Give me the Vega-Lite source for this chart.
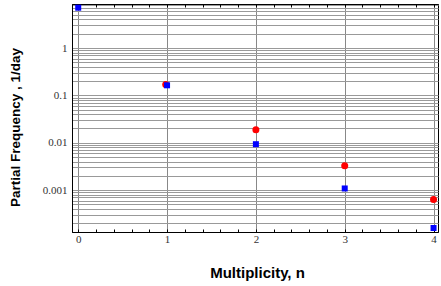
{
  "$schema": "https://vega.github.io/schema/vega-lite/v6.json",
  "width": 366,
  "height": 228,
  "autosize": {"type": "none"},
  "padding": {"left": 72, "top": 4, "right": 3, "bottom": 54},
  "background": "white",
  "config": {"view": {"stroke": "#000", "strokeWidth": 1}},
  "data": {
    "values": [
      {"n": 0, "freq": 7.1, "series": "blue"},
      {"n": 0.985, "freq": 0.17, "series": "red"},
      {"n": 1, "freq": 0.163, "series": "blue"},
      {"n": 2, "freq": 0.0187, "series": "red"},
      {"n": 2, "freq": 0.0093, "series": "blue"},
      {"n": 3, "freq": 0.00325, "series": "red"},
      {"n": 3, "freq": 0.00108, "series": "blue"},
      {"n": 4, "freq": 0.00063, "series": "red"},
      {"n": 4, "freq": 0.000158, "series": "blue"}
    ]
  },
  "layer": [
    {
      "mark": {"type": "point", "filled": true, "opacity": 1},
      "encoding": {
        "x": {
          "field": "n", "type": "quantitative",
          "scale": {"domain": [-0.07, 4.05], "nice": false, "zero": false},
          "axis": {
            "orient": "bottom",
            "values": [0,0.2,0.4,0.6,0.8,1,1.2,1.4,1.6,1.8,2,2.2,2.4,2.6,2.8,3,3.2,3.4,3.6,3.8,4],
            "labelExpr": "abs(datum.value - round(datum.value)) < 0.001 ? format(datum.value, 'd') : ''",
            "grid": true,
            "gridColor": "#888",
            "gridOpacity": {"condition": {"test": "abs(datum.value - round(datum.value)) < 0.001", "value": 1}, "value": 0},
            "tickSize": -3,
            "tickColor": "#000",
            "domainColor": "#000",
            "labelFont": "Liberation Serif",
            "labelFontSize": 11,
            "labelColor": "#333",
            "labelPadding": 4,
            "labelFlush": false,
            "title": "Multiplicity, n",
            "titleFont": "Liberation Sans",
            "titleFontSize": 15,
            "titleFontWeight": "bold",
            "titleColor": "#000",
            "titleX": 185,
            "titleY": 40,
            "titleAnchor": null,
            "titleAlign": "center",
            "titleBaseline": "middle"
          }
        },
        "y": {
          "field": "freq", "type": "quantitative",
          "scale": {"type": "log", "domain": [0.00013, 8.5], "nice": false},
          "axis": {
            "values": [0.0002,0.0003,0.0004,0.0005,0.0006,0.0007,0.0008,0.0009,0.001,0.002,0.003,0.004,0.005,0.006,0.007,0.008,0.009,0.01,0.02,0.03,0.04,0.05,0.06,0.07,0.08,0.09,0.1,0.2,0.3,0.4,0.5,0.6,0.7,0.8,0.9,1,2,3,4,5,6,7,8],
            "labelExpr": "abs(log(datum.value)/LN10 - round(log(datum.value)/LN10)) < 0.001 ? format(datum.value, '~g') : ''",
            "grid": true,
            "gridColor": "#999",
            "ticks": false,
            "domainColor": "#000",
            "labelFont": "Liberation Serif",
            "labelFontSize": 11,
            "labelColor": "#333",
            "labelPadding": 5,
            "labelFlush": false,
            "labelOverlap": false,
            "title": "Partial Frequency , 1/day",
            "titleFont": "Liberation Sans",
            "titleFontSize": 13.5,
            "titleFontWeight": "bold",
            "titleColor": "#000",
            "titleX": -57,
            "titleY": 123,
            "titleAngle": -90,
            "titleAlign": "center",
            "titleBaseline": "middle"
          }
        },
        "color": {
          "field": "series", "type": "nominal",
          "scale": {"domain": ["red", "blue"], "range": ["#ff0000", "#0000ff"]},
          "legend": null
        },
        "shape": {
          "field": "series", "type": "nominal",
          "scale": {"domain": ["red", "blue"], "range": ["circle", "square"]},
          "legend": null
        },
        "size": {
          "field": "series", "type": "nominal",
          "scale": {"domain": ["red", "blue"], "range": [49, 36]},
          "legend": null
        }
      }
    },
    {
      "mark": {"type": "point", "opacity": 0},
      "encoding": {
        "x": {
          "field": "n", "type": "quantitative",
          "axis": {
            "orient": "top",
            "values": [0,0.2,0.4,0.6,0.8,1,1.2,1.4,1.6,1.8,2,2.2,2.4,2.6,2.8,3,3.2,3.4,3.6,3.8,4],
            "labels": false,
            "grid": false,
            "tickSize": -3,
            "tickColor": "#000",
            "domainColor": "#000",
            "title": null
          }
        },
        "y": {"field": "freq", "type": "quantitative"}
      }
    }
  ],
  "resolve": {"axis": {"x": "independent"}}
}
